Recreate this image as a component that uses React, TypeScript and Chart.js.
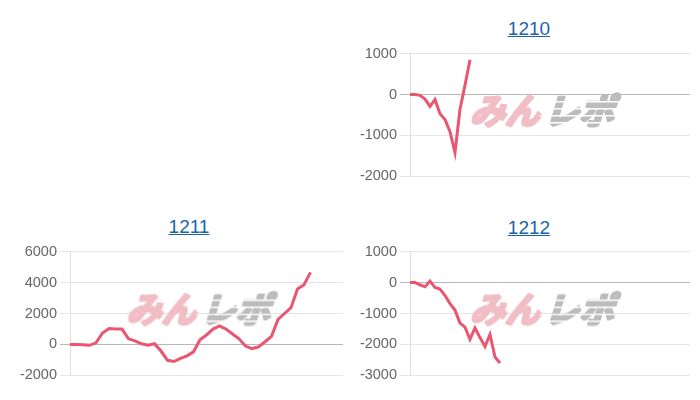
import React, { useEffect, useRef } from "react";
import { Chart, registerables } from "chart.js";

Chart.register(...registerables);

// ---- data ----
const titles = ["1210", "1211", "1212"];
const data1210 = [0, 0, -20, -110, -290, -120, -470, -610, -910, -1420, -360, 230, 850];
const data1211 = [
  0, 0, -20, -60, 100, 740, 1030, 990, 990, 360, 230, 40, -60, 40, -430, -1030, -1110, -900, -740, -480,
  300, 610, 990, 1200, 990, 670, 360, -110, -270, -160, 170, 520, 1620, 2000, 2380, 3580, 3860, 4660,
];
const data1212 = [0, 0, -70, -135, 50, -160, -210, -420, -680, -890, -1310, -1440, -1840, -1470, -1780, -2070, -1680, -2410, -2600];
const slots1210 = 57;
const slots1211 = 43;
const slots1212 = 57;
const yTicks1210 = [-2000, -1000, 0, 1000];
const yTicks1211 = [-2000, 0, 2000, 4000, 6000];
const yTicks1212 = [-3000, -2000, -1000, 0, 1000];

const LINE_COLOR = "#e9566f";
const FONT = "'Liberation Sans', Arial, Helvetica, sans-serif";

const watermarkPlugin = {
  id: "watermark",
  beforeDatasetsDraw(chart: any) {
    const { left, right, top, bottom } = chart.chartArea;
    const ctx = chart.ctx as CanvasRenderingContext2D;
    const cx = (left + right) / 2 - 4;
    const cy = (top + bottom) / 2 - 5;
    const off = document.createElement("canvas");
    off.width = 220;
    off.height = 60;
    const o = off.getContext("2d")!;
    o.font = "bold 35px 'Noto Sans CJK JP', sans-serif";
    o.textBaseline = "middle";
    o.lineJoin = "round";
    const w1 = o.measureText("みん").width;
    const w2 = o.measureText("レポ").width;
    const gap = 4;
    const total = w1 + gap + w2;
    const x0 = (220 - total) / 2;
    o.save();
    o.translate(110, 30);
    o.transform(1, 0, -0.3, 1, 0, 0);
    o.translate(-110, -30);
    o.fillStyle = "#f1bec5";
    o.strokeStyle = "#f1bec5";
    o.lineWidth = 3;
    o.fillText("みん", x0, 31);
    o.strokeText("みん", x0, 31);
    o.fillStyle = "#bcbcbc";
    o.strokeStyle = "#bcbcbc";
    o.fillText("レポ", x0 + w1 + gap, 31);
    o.strokeText("レポ", x0 + w1 + gap, 31);
    o.restore();
    // speed streaks cut through the grey part
    o.globalCompositeOperation = "destination-out";
    o.fillStyle = "#000";
    const sx = x0 + w1 + gap - 8;
    [21, 28, 35, 42].forEach((yy) => o.fillRect(sx, yy, w2 + 16, 1.5));
    o.globalCompositeOperation = "source-over";
    ctx.save();
    ctx.drawImage(off, cx - 110, cy - 30);
    ctx.restore();
  },
};

function LineChart(props: {
  values: number[];
  slots: number;
  ticks: number[];
  left: number;
  top: number;
  width: number;
  height: number;
}) {
  const ref = useRef<HTMLCanvasElement | null>(null);
  useEffect(() => {
    if (!ref.current) return;
    const labels = Array.from({ length: props.slots }, (_, i) => String(i));
    const t = props.ticks;
    const chart = new Chart(ref.current, {
      type: "line",
      data: {
        labels,
        datasets: [
          {
            data: props.values,
            borderColor: LINE_COLOR,
            backgroundColor: LINE_COLOR,
            borderWidth: 3,
            pointRadius: 0,
            tension: 0,
            fill: false,
          },
        ],
      },
      options: {
        animation: false,
        responsive: false,
        layout: { padding: { top: 10, bottom: 10, left: 0, right: 0 } },
        plugins: { legend: { display: false }, tooltip: { enabled: false }, title: { display: false } },
        scales: {
          x: { display: false },
          y: {
            min: t[0],
            max: t[t.length - 1],
            afterFit: (scale: any) => {
              scale.width = 60;
            },
            ticks: {
              stepSize: t[1] - t[0],
              color: "#666",
              padding: 3,
              font: { family: FONT, size: 14.5 },
              callback: (v: any) => String(v),
            },
            grid: {
              tickLength: 10,
              color: (c: any) => (c.tick && c.tick.value === 0 ? "rgba(0,0,0,0.28)" : "rgba(0,0,0,0.1)"),
            },
            border: { color: "rgba(0,0,0,0.12)" },
          },
        },
      },
      plugins: [watermarkPlugin],
    });
    return () => chart.destroy();
  }, []);
  return (
    <canvas
      ref={ref}
      width={props.width}
      height={props.height}
      style={{ position: "absolute", left: props.left, top: props.top, width: props.width, height: props.height }}
    />
  );
}

function Title(props: { text: string; cx: number; top: number }) {
  return (
    <div
      style={{
        position: "absolute",
        left: props.cx - 100,
        top: props.top,
        width: 200,
        textAlign: "center",
        fontFamily: FONT,
        fontSize: 19,
        lineHeight: "22px",
      }}
    >
      <a href="#" onClick={(e) => e.preventDefault()} style={{ color: "#1d63a9", textDecoration: "underline" }}>
        {props.text}
      </a>
    </div>
  );
}

export default function App() {
  return (
    <div style={{ position: "absolute", left: 0, top: 0, width: 700, height: 400, background: "#fff", overflow: "hidden" }}>
      <Title text={titles[0]} cx={529} top={18} />
      <LineChart values={data1210} slots={slots1210} ticks={yTicks1210} left={350} top={42} width={340} height={146} />
      <Title text={titles[1]} cx={189} top={216} />
      <LineChart values={data1211} slots={slots1211} ticks={yTicks1211} left={10} top={240} width={333} height={147} />
      <Title text={titles[2]} cx={529} top={217} />
      <LineChart values={data1212} slots={slots1212} ticks={yTicks1212} left={350} top={240} width={340} height={147} />
    </div>
  );
}
